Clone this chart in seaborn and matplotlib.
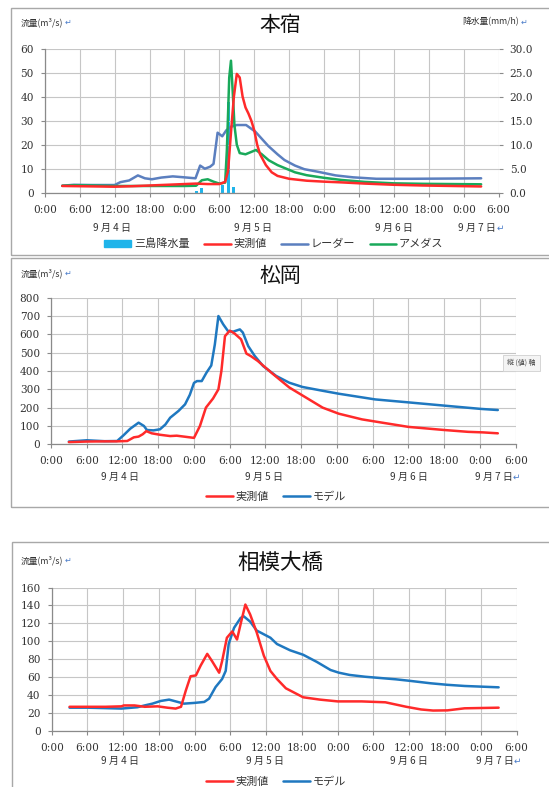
import matplotlib
matplotlib.use("Agg")
import matplotlib.pyplot as plt
import seaborn as sns
from matplotlib.patches import Rectangle, Patch
from matplotlib.lines import Line2D

# ---------------------------------------------------------------- data
# time axis: hours counted from 9/4 0:00
hour_ticks = list(range(0, 79, 6))
hour_labels = ["0:00", "6:00", "12:00", "18:00"] * 3 + ["0:00", "6:00"]
day_labels = ["9 月 4 日", "9 月 5 日", "9 月 6 日", "9 月 7 日"]
day_label_hours = [11.5, 35.8, 60.0, 74.3]

# 本宿
hon_obs_t = [3, 6, 9, 12, 15, 18, 21, 24, 26, 28, 30, 31, 31.5, 32, 32.5, 33, 33.5,
             34, 34.5, 35, 35.5, 36, 36.5, 37, 38, 39, 40, 42, 45, 48, 51, 55, 60,
             65, 70, 75]
hon_obs_v = [2.8, 2.7, 2.6, 2.5, 2.7, 3.0, 3.3, 3.6, 3.8, 3.6, 3.6, 4.5, 9, 25, 40,
             49.5, 48, 40, 35.5, 33, 30, 26, 20, 16, 11.5, 8.5, 7, 5.8, 5.0, 4.6,
             4.3, 3.8, 3.3, 3.0, 2.8, 2.6]
hon_radar_t = [3, 5, 8, 12, 13, 14.5, 16, 17.2, 18.4, 20, 22, 23.5, 25.9, 26.7, 27.5,
               28.4, 29, 29.7, 30.5, 31.2, 32, 33, 34.6, 36.2, 38.4, 40, 41.2, 43,
               44.6, 47, 50, 53, 57, 63, 70, 75]
hon_radar_v = [2.9, 3.3, 3.2, 3.2, 4.4, 5.1, 7.2, 6.0, 5.6, 6.3, 6.8, 6.5, 6.0, 11.3,
               10, 10.8, 12, 25, 23.5, 26, 27.5, 28.2, 28.2, 25.4, 19.5, 16, 13.6,
               11.3, 9.8, 8.7, 7.2, 6.4, 5.8, 5.8, 5.9, 6.0]
hon_amedas_t = [3, 5, 8, 12, 18, 24, 26, 27, 28, 29, 30, 31, 31.3, 31.7, 32, 32.3,
                32.6, 33, 33.5, 34.5, 35.5, 36.3, 37.3, 38.5, 40, 41.5, 43, 45, 48,
                51, 55, 60, 65, 70, 75]
hon_amedas_v = [2.9, 3.1, 3.0, 2.8, 2.8, 2.8, 2.9, 5.2, 5.6, 4.6, 3.8, 4.2, 18, 48,
                55, 42, 28, 20, 16.5, 16, 17, 17.8, 16, 13.5, 11.5, 10, 8.5, 7.3,
                6.2, 5.3, 4.5, 3.9, 3.7, 3.6, 3.5]
mishima_rain_t = [26, 27, 30.5, 31.5, 32.5]
mishima_rain_v = [0.4, 0.9, 1.7, 19.0, 1.2]

# 松岡
mat_obs_t = [3, 6, 9, 11, 12.8, 13.9, 14.7, 15.4, 16, 16.9, 18.3, 20, 21.1, 22.8, 24,
             25, 26, 27.2, 28.1, 28.6, 29.2, 30, 30.8, 31.9, 32.8, 33.6, 34.7, 37.2,
             40, 42.8, 45.6, 48.3, 52.2, 55.6, 60, 66, 70, 72.5, 75]
mat_obs_v = [12, 15, 16, 16, 18, 38, 42, 55, 72, 60, 52, 45, 47, 40, 35, 100, 200,
             250, 300, 400, 590, 620, 605, 573, 495, 480, 455, 385, 310, 255, 200,
             167, 136, 118, 95, 78, 68, 65, 60]
mat_model_t = [3, 6, 9, 11.1, 12.2, 13.3, 14.7, 15.6, 16.1, 17.2, 18.3, 19.2, 20,
               21.4, 22.5, 23.3, 24, 24.5, 25.3, 26.1, 26.9, 27.5, 28.1, 28.9, 29.7,
               30.6, 31.7, 32.2, 33.1, 34.2, 35.6, 37.8, 40, 42.2, 45.6, 48.3, 54.4,
               60.6, 66.7, 72.2, 75]
mat_model_v = [15, 22, 17, 18, 50, 85, 118, 100, 78, 76, 82, 108, 145, 182, 218, 270,
               335, 345, 345, 391, 430, 545, 700, 655, 618, 615, 627, 610, 536, 482,
               427, 373, 336, 313, 292, 276, 245, 227, 209, 193, 187]

# 相模大橋
sag_obs_t = [3, 6, 9, 11.7, 12.1, 13.9, 15.6, 17.8, 19.4, 20.8, 21.7, 22.5, 23.3,
             24.2, 25, 26.1, 26.9, 28.1, 28.6, 29.4, 30.3, 31.1, 31.8, 32.5, 33.3,
             34.4, 35.6, 36.7, 37.8, 39.3, 42.2, 45, 48, 52, 56, 59.5, 62, 64, 66.4,
             69.3, 75]
sag_obs_v = [27, 27, 27, 27.5, 28.5, 28.5, 27, 27.5, 26, 25, 27, 45, 61, 62, 73, 86,
             78, 65, 78, 104, 111, 102, 122, 141, 130, 110, 84, 67, 58, 47.6, 37.6,
             35, 33, 33, 32, 27, 24, 22.8, 23, 25.3, 26]
sag_model_t = [3, 6, 9, 11.7, 14.4, 15.6, 16.9, 18.3, 19.7, 21.1, 22.2, 23.9, 25.6,
               26.4, 27.5, 28.6, 29.2, 29.7, 30.6, 31.7, 32.2, 33.3, 34.4, 36.7, 37.8,
               40, 42.2, 44.5, 46.8, 48.2, 50, 52.6, 57.8, 60, 63.6, 66.4, 69.3, 75]
sag_model_v = [26, 26, 25.5, 25, 26.5, 28.5, 30.5, 33.5, 35, 32.5, 30.5, 31.3, 32.4,
               36, 49, 58, 67, 97, 115, 126, 128, 122, 112, 104, 97, 90, 85, 77, 68,
               65, 62.5, 60.5, 57.6, 56, 53.2, 51.5, 50.2, 48.7]

# ---------------------------------------------------------------- style
sns.set_theme(style="white")
plt.rcParams["font.family"] = ["Noto Sans CJK JP", "DejaVu Sans"]
NUM_FONT = "DejaVu Serif"
RED = "#FF2A2A"
BLUE = "#1F78C0"
RADAR = "#5B7FBF"
GREEN = "#19A95A"
CYAN = "#1FB4EA"
GRID = "#C6C6C6"
SPINE = "#8A8A8A"
TXT = "#333333"
MARK = "#4A7CC9"

W, H = 549, 787
fig = plt.figure(figsize=(W / 100, H / 100), dpi=100)
renderer = fig.canvas.get_renderer()


def fx(x):
    return x / W


def fy(y):
    return 1 - y / H


def px_axes(left, top, right, bottom):
    return fig.add_axes([fx(left), fy(bottom), (right - left) / W, (bottom - top) / H])


def panel_box(top, bottom, left=11):
    fig.add_artist(Rectangle((fx(left), fy(bottom)), (W + 20 - left) / W,
                             (bottom - top) / H, transform=fig.transFigure,
                             fill=False, ec="#A8A8A8", lw=1.0))


def with_mark(x, y, s, size):
    """Small header text followed by a blue return mark."""
    t = fig.text(fx(x), fy(y), s, fontsize=size, color=TXT, va="center")
    bb = t.get_window_extent(renderer)
    fig.text(bb.x1 / W + 1.5 / W, fy(y), "↵", fontsize=size - 0.5, color=MARK,
             va="center", fontfamily="DejaVu Sans")


def style_axes(ax, ymax, ystep, date_offset):
    ax.set_xlim(0, 78)
    ax.set_ylim(0, ymax)
    ax.set_xticks(hour_ticks)
    ax.set_xticklabels(hour_labels, fontfamily=NUM_FONT, fontsize=7.6, color=TXT)
    yt = list(range(0, ymax + 1, ystep))
    ax.set_yticks(yt)
    ax.set_yticklabels([str(v) for v in yt], fontfamily=NUM_FONT, fontsize=7.6,
                       color=TXT)
    ax.grid(True, color=GRID, lw=0.8)
    for s in ("top", "right"):
        ax.spines[s].set_visible(False)
    for s in ("left", "bottom"):
        ax.spines[s].set_color(SPINE)
        ax.spines[s].set_linewidth(0.9)
    ax.tick_params(axis="x", length=3, width=0.8, color=SPINE, pad=5.5, direction="out",
                   bottom=True)
    ax.tick_params(axis="y", length=3, width=0.8, color=SPINE, pad=5, direction="out",
                   left=True)
    ax.set_xlabel("")
    ax.set_ylabel("")
    for lab, h in zip(day_labels, day_label_hours):
        ax.annotate(lab, xy=(h, 0), xycoords=("data", "axes fraction"),
                    xytext=(0, -date_offset), textcoords="offset pixels",
                    ha="center", va="center", fontsize=7.2, color=TXT)
    ax.annotate("↵", xy=(day_label_hours[-1], 0), xycoords=("data", "axes fraction"),
                xytext=(23, -date_offset), textcoords="offset pixels",
                ha="center", va="center", fontsize=6.5, color=MARK,
                fontfamily="DejaVu Sans")


def header(y, title, title_size):
    with_mark(21, y, "流量(m³/s)", 6.3)
    fig.text(fx(280), fy(y + 3), title, fontsize=title_size, color="#111111",
             ha="center", va="center")


def draw(ax, t, v, color):
    sns.lineplot(x=t, y=v, ax=ax, color=color, linewidth=1.8, estimator=None,
                 legend=False)


LEG = dict(loc="center", frameon=False, fontsize=8, handlelength=2.4,
           handleheight=0.6, columnspacing=1.3, handletextpad=0.25, labelcolor=TXT)

# ---------------------------------------------------------------- 本宿
panel_box(8, 255)
header(22, "本宿", 15)
with_mark(462, 22, "降水量(mm/h)", 6.3)

ax1 = px_axes(44.8, 48.7, 498.6, 192.7)
ax1r = ax1.twinx()
ax1r.bar(mishima_rain_t, mishima_rain_v, width=0.5, color=CYAN, linewidth=0)
ax1r.set_ylim(0, 30)
ax1r.set_yticks([0, 5, 10, 15, 20, 25, 30])
ax1r.set_yticklabels([f"{v:.1f}" for v in [0, 5, 10, 15, 20, 25, 30]],
                     fontfamily=NUM_FONT, fontsize=7.6, color=TXT)
ax1r.tick_params(axis="y", length=3, width=0.8, color=SPINE, pad=5, right=True)
for s in ax1r.spines.values():
    s.set_visible(False)
ax1r.grid(False)
ax1.set_zorder(ax1r.get_zorder() + 1)
ax1.patch.set_visible(False)

draw(ax1, hon_radar_t, hon_radar_v, RADAR)
draw(ax1, hon_amedas_t, hon_amedas_v, GREEN)
draw(ax1, hon_obs_t, hon_obs_v, RED)
style_axes(ax1, 60, 10, 35)

fig.legend(handles=[Patch(color=CYAN, label="三島降水量"),
                    Line2D([], [], color=RED, lw=1.8, label="実測値"),
                    Line2D([], [], color=RADAR, lw=1.8, label="レーダー"),
                    Line2D([], [], color=GREEN, lw=1.8, label="アメダス")],
           bbox_to_anchor=(fx(274), fy(244)), ncol=4, **LEG)

# ---------------------------------------------------------------- 松岡
panel_box(258, 507)
header(273, "松岡", 15)

ax2 = px_axes(51, 297.7, 515.7, 444.3)
draw(ax2, mat_model_t, mat_model_v, BLUE)
draw(ax2, mat_obs_t, mat_obs_v, RED)
style_axes(ax2, 800, 100, 33)

fig.legend(handles=[Line2D([], [], color=RED, lw=1.8, label="実測値"),
                    Line2D([], [], color=BLUE, lw=1.8, label="モデル")],
           bbox_to_anchor=(fx(276), fy(497)), ncol=2, **LEG)

fig.text(fx(507), fy(363), "縦 (値) 軸", fontsize=5, color="#444444", ha="left",
         va="center", bbox=dict(boxstyle="square,pad=0.6", fc="#F4F4F4",
                                ec="#D0D0D0", lw=0.6))

# ---------------------------------------------------------------- 相模大橋
panel_box(542, 800, left=12)
header(560, "相模大橋", 15.5)

ax3 = px_axes(51.7, 587.5, 516.5, 731)
draw(ax3, sag_model_t, sag_model_v, BLUE)
draw(ax3, sag_obs_t, sag_obs_v, RED)
style_axes(ax3, 160, 20, 30)

fig.legend(handles=[Line2D([], [], color=RED, lw=1.8, label="実測値"),
                    Line2D([], [], color=BLUE, lw=1.8, label="モデル")],
           bbox_to_anchor=(fx(276), fy(782)), ncol=2, **LEG)

fig.savefig("out.png", dpi=100)
